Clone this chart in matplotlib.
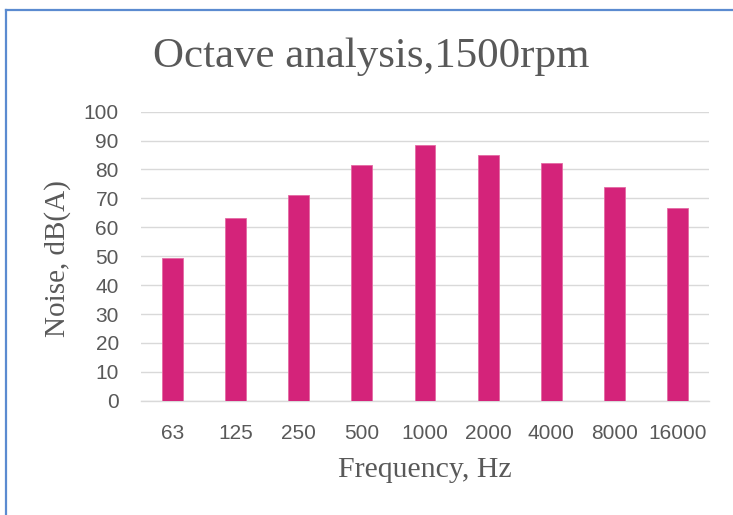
import matplotlib
matplotlib.use("Agg")
import matplotlib.pyplot as plt
from matplotlib.lines import Line2D

categories = ["63", "125", "250", "500", "1000", "2000", "4000", "8000", "16000"]
noise_dba = [49.5, 63.2, 71.2, 81.5, 88.5, 84.9, 82.4, 73.8, 66.8]
y_ticks = [0, 10, 20, 30, 40, 50, 60, 70, 80, 90, 100]

W, H = 733, 515
fig = plt.figure(figsize=(W / 100, H / 100), dpi=100)
fig.patch.set_facecolor("white")

ax = fig.add_axes([141 / W, 1 - 400.7 / H, (709 - 141) / W, (400.7 - 111.7) / H])
x = list(range(len(categories)))
ax.bar(x, noise_dba, width=0.33, color="#D4237A", edgecolor="#E46AA3", linewidth=0.6, zorder=3)
ax.set_xlim(-0.5, len(categories) - 0.5)
ax.set_ylim(0, 100)
ax.set_yticks(y_ticks)
ax.set_xticks(x)
ax.set_xticklabels(categories)
ax.grid(axis="y", color="#D9D9D9", linewidth=1.0, zorder=0)
for s in ["top", "right", "left"]:
    ax.spines[s].set_visible(False)
ax.spines["bottom"].set_color("#D9D9D9")
ax.spines["bottom"].set_linewidth(1.0)
ax.tick_params(axis="both", length=0, labelsize=15, labelcolor="#595959")
ax.tick_params(axis="x", pad=17)
ax.tick_params(axis="y", pad=16)
for lab in ax.get_xticklabels() + ax.get_yticklabels():
    lab.set_fontfamily("Liberation Sans")

serif = "Liberation Serif"
fig.text(371.5 / W, 1 - 57 / H, "Octave analysis,1500rpm", ha="center", va="center",
         fontsize=31, color="#595959", family=serif)
fig.text(425 / W, 1 - 470 / H, "Frequency, Hz", ha="center", va="center",
         fontsize=21.5, color="#595959", family=serif)
fig.text(58 / W, 1 - 259 / H, "Noise, dB(A)", ha="center", va="center", rotation=90,
         fontsize=21, color="#595959", family=serif)

# chart frame (top and left edges visible)
fig.add_artist(Line2D([6 / W, 1], [1 - 10 / H, 1 - 10 / H], color="#5B8BD0", linewidth=1.6,
                      transform=fig.transFigure))
fig.add_artist(Line2D([6 / W, 6 / W], [1 - 10 / H, 0], color="#5B8BD0", linewidth=1.6,
                      transform=fig.transFigure))

fig.savefig("out.png", dpi=100)
